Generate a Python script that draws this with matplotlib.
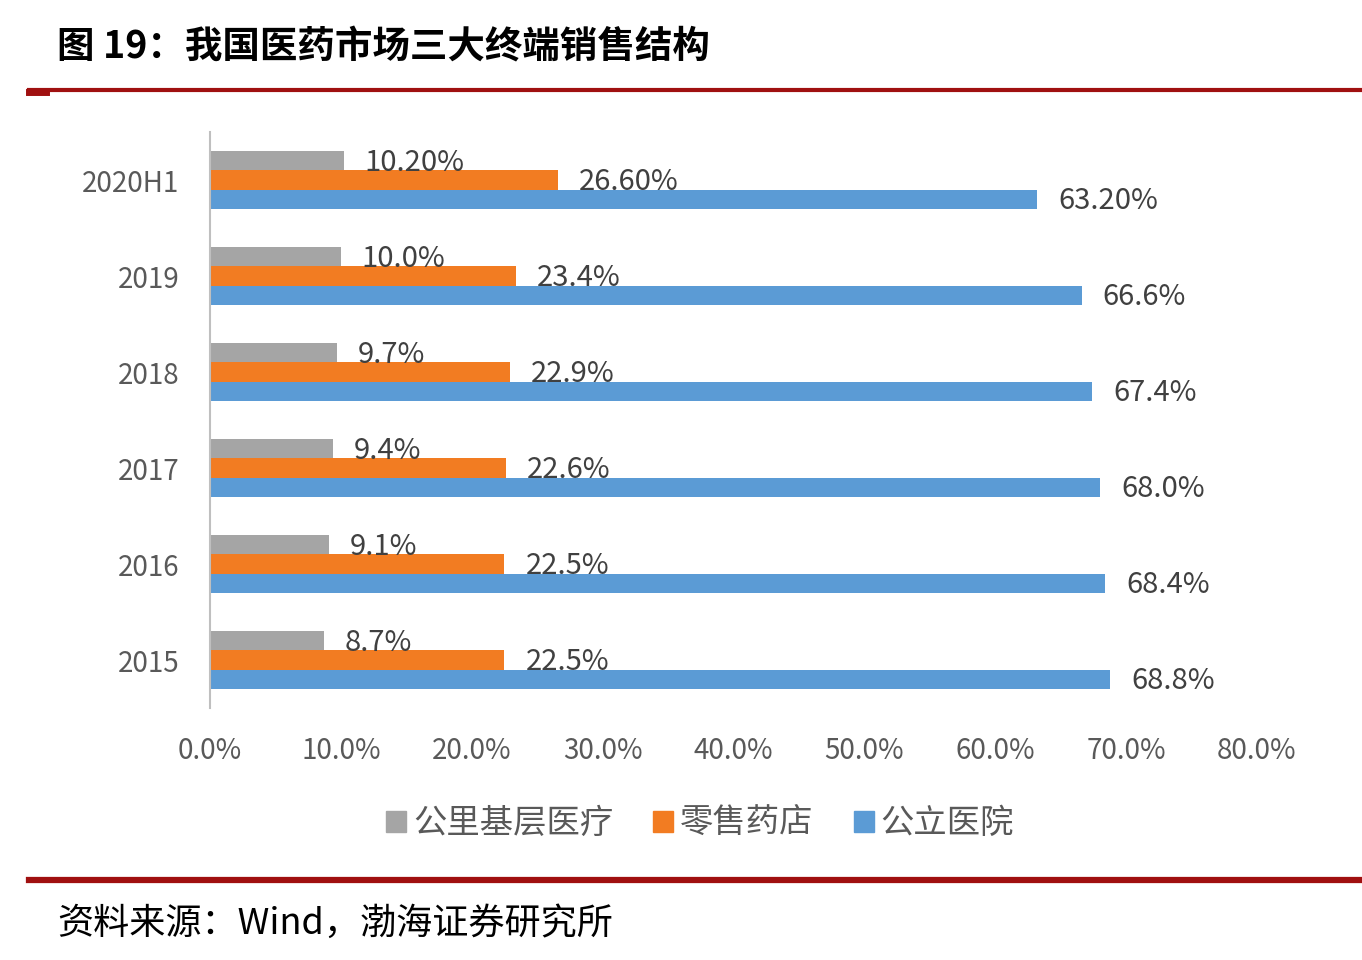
import numpy as np
import matplotlib.pyplot as plt
from matplotlib.lines import Line2D
from matplotlib.patches import Patch

plt.rcParams['font.family'] = ['Noto Sans CJK SC', 'DejaVu Sans']

# data (bottom to top)
categories = ['2015', '2016', '2017', '2018', '2019', '2020H1']
grassroots = [8.7, 9.1, 9.4, 9.7, 10.0, 10.2]
retail = [22.5, 22.5, 22.6, 22.9, 23.4, 26.6]
hospital = [68.8, 68.4, 68.0, 67.4, 66.6, 63.2]
grassroots_lbl = ['8.7%', '9.1%', '9.4%', '9.7%', '10.0%', '10.20%']
retail_lbl = ['22.5%', '22.5%', '22.6%', '22.9%', '23.4%', '26.60%']
hospital_lbl = ['68.8%', '68.4%', '68.0%', '67.4%', '66.6%', '63.20%']
series_names = ['公里基层医疗', '零售药店', '公立医院']
colors = ['#A5A5A5', '#F27C22', '#5B9BD5']
xticks = [0, 10, 20, 30, 40, 50, 60, 70, 80]

fig = plt.figure(figsize=(13.62, 9.6), dpi=100)
ax = fig.add_axes([0.1542, 0.2625, 0.7687, 0.6])

y = np.arange(len(categories))
h = 0.2
series = [(grassroots, grassroots_lbl, h), (retail, retail_lbl, 0), (hospital, hospital_lbl, -h)]
for (vals, lbls, off), c in zip(series, colors):
    ax.barh(y + off, vals, height=h, color=c)
    for yi, v, t in zip(y, vals, lbls):
        ax.text(v + 1.6, yi + off - 0.02, t, va='center', ha='left', fontsize=21, color='#404040')

ax.set_xlim(0, 80)
ax.set_ylim(-0.5, 5.5)
ax.set_xticks(xticks)
ax.set_xticklabels([f'{t:.1f}%' for t in xticks], fontsize=20, color='#595959')
ax.set_yticks(y)
ax.set_yticklabels(categories, fontsize=20, color='#595959')
ax.tick_params(axis='x', length=0, pad=20)
ax.tick_params(axis='y', length=0, pad=22)
for s in ['top', 'right', 'bottom']:
    ax.spines[s].set_visible(False)
ax.spines['left'].set_color('#BFBFBF')
ax.spines['left'].set_linewidth(1.5)

handles = [Patch(color=c) for c in colors]
fig.legend(handles, series_names, loc='center', bbox_to_anchor=(0.514, 0.142), ncol=3,
           frameon=False, fontsize=24, handlelength=0.6, handleheight=0.6,
           handletextpad=0.2, columnspacing=1.2, labelcolor='#595959')

# title, rules and source
fig.text(0.042, 0.951, '图 19：我国医药市场三大终端销售结构', fontsize=27, fontweight='heavy',
         va='center', ha='left', color='black')
fig.add_artist(Line2D([0.021, 1.0], [0.906, 0.906], color='#A01010', lw=3))
fig.add_artist(Line2D([0.021, 0.034], [0.904, 0.904], color='#A01010', lw=5))
fig.add_artist(Line2D([0.021, 1.0], [0.083, 0.083], color='#A01010', lw=4.5))
fig.text(0.042, 0.038, '资料来源：Wind，渤海证券研究所', fontsize=26, style='italic',
         va='center', ha='left', color='black')

fig.savefig('out.png', dpi=100, facecolor='white')
